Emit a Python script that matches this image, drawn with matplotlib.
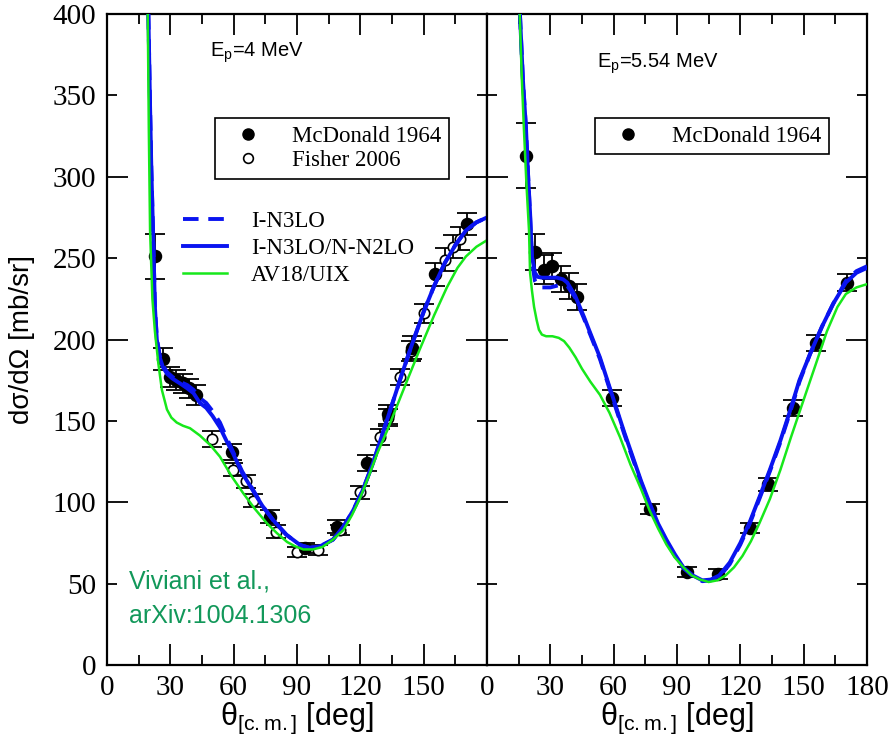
import numpy as np
import matplotlib
matplotlib.use("Agg")
import matplotlib.pyplot as plt
from matplotlib.ticker import MultipleLocator, FixedLocator, NullFormatter

plt.rcParams['mathtext.fontset'] = 'custom'
plt.rcParams['mathtext.rm'] = 'Liberation Sans'
plt.rcParams['mathtext.it'] = 'Liberation Sans:italic'

SERIF = 'Liberation Serif'
SANS = 'Liberation Sans'
GREEN_TXT = '#12985a'
BLUE = '#0a14f0'
LGREEN = '#17e81b'

# ---- left panel, Ep = 4 MeV ----
mcd4_x = [22.5, 26.5, 30, 32.5, 36, 39, 42, 59, 77, 94, 109, 123, 133, 144.5, 155.5, 170.5]
mcd4_y = [251, 188, 177, 175, 173, 170, 166, 131, 91, 72, 85, 124, 154, 195, 240, 271]
mcd4_e = [14, 7, 6, 6, 6, 6, 6, 5, 4, 3, 4, 5, 6, 7, 7, 7]

fis_x = [49.5, 59.5, 66, 69, 80, 90, 100, 110.5, 120, 129.5, 133, 139, 144, 150, 160, 164, 167]
fis_y = [139, 120, 113, 101, 82, 69.5, 70.5, 83, 106, 140, 152, 177, 193, 216, 249, 257, 262]
fis_e = [5, 4, 4, 4, 4, 3, 3, 3, 4, 5, 5, 5, 6, 6, 7, 7, 7]

n3lo4_x = [19.6, 20.3, 21.0, 21.8, 22.7, 23.6, 25, 26.5, 28.4, 31, 34.6, 38, 41, 44, 47, 50,
           53.5, 56.5, 59.7, 64, 69, 73.5, 78.7, 85, 91.5, 96, 101, 107, 112, 116.6, 121,
           126, 131, 135.5, 140, 145, 150, 155, 160, 165, 170, 175, 180]
n3lo4_y = [400, 350, 305, 267, 220, 201, 190, 184, 180, 177, 174, 172, 169, 164, 161, 156,
           149, 140, 131, 119, 108, 98, 89, 80, 73.7, 72, 73, 77, 85, 95, 107,
           124, 144, 162, 180, 199, 217, 233, 247, 258, 267, 272, 275]

n3n2_4_x = [19.6, 20.3, 21.0, 21.8, 22.7, 23.6, 25, 26.5, 28.4, 31, 34.6, 38, 41, 44, 47, 50,
            53.5, 56.5, 59.7, 64, 69, 73.5, 78.7, 85, 91.5, 96, 101, 107, 112, 116.6, 121,
            126, 131, 135.5, 140, 145, 150, 155, 160, 165, 170, 175, 180]
n3n2_4_y = [400, 350, 305, 267, 220, 200, 189, 183, 179, 176, 173, 170, 167, 161, 158, 153,
            146, 138, 130, 118, 107.5, 98, 89, 80, 73.7, 72, 73, 77, 85, 95, 107,
            124, 144, 162, 180, 199, 217, 233, 247, 258, 267, 272, 275]

av18_4_x = [19.3, 19.8, 20.4, 21.5, 22.7, 24.3, 26, 28.4, 30.5, 33, 36, 39.3, 44, 49, 53.5,
            59, 64.5, 70, 75.8, 80.5, 85.3, 89, 93, 97.5, 102, 107, 112, 116, 120, 124,
            128, 132.7, 137, 141, 148, 155, 161, 166, 170, 175, 180]
av18_4_y = [400, 330, 267, 225, 205, 185.5, 169, 157, 152, 149, 147, 145.5, 141, 135, 128,
            116, 105.6, 96, 87, 81, 75.6, 73, 71, 71, 72.5, 77, 83, 92, 103, 116,
            130, 144, 158, 171, 193.5, 215, 232, 244, 251, 257, 261]

# ---- right panel, Ep = 5.54 MeV ----
mcd5_x = [18.5, 22.7, 27, 30.8, 35, 39, 42.6, 59.2, 77.2, 94.7, 109.4, 124.5, 133, 145, 156, 170.5]
mcd5_y = [313, 254, 243, 245, 237, 233, 226, 164, 96, 57, 56, 84, 111, 158, 198, 235]
mcd5_e = [20, 11, 9, 8, 8, 8, 8, 5, 3, 3, 3, 3, 4, 5, 5, 5]

n3n2_5_x = [15.6, 17, 18.5, 19.5, 20.4, 21.3, 22.7, 24, 26, 30, 33, 36, 38, 41.7, 45.9, 48.3,
            53.5, 60, 65, 69, 73, 77, 81, 85, 89, 93, 97.5, 102, 106, 110, 115, 120, 124.5,
            129, 134, 139, 143.5, 148, 153, 158.7, 164, 170, 175, 180]
n3n2_5_y = [400, 360, 329, 300, 278, 251, 241, 238.5, 238, 238, 238, 237, 235, 227, 214, 206,
            189, 163, 143, 128, 113, 99.5, 87, 77, 68, 60, 55, 52, 52.5, 55, 63, 75, 88,
            103, 120, 138, 156, 175, 191, 208, 222, 235, 241, 244]

n3lo5_x = [15.6, 17, 18.5, 19.5, 20.4, 21.3, 22.7, 24, 26, 30, 33, 36, 38, 41.7, 45.9, 48.3,
           53.5, 60, 65, 69, 73, 77, 81, 85, 89, 93, 97.5, 102, 106, 110, 115, 120, 124.5,
           129, 134, 139, 143.5, 148, 153, 158.7, 164, 170, 175, 180]
n3lo5_y = [400, 360, 329, 300, 276, 248, 236, 233, 232, 232, 233, 234, 233, 226, 213, 205,
           188, 162, 142, 127, 112, 98.5, 86, 76, 67, 59.5, 54.5, 51.5, 52, 54, 62, 74, 87,
           102, 119, 137, 155, 174, 191, 208, 222, 236, 242, 245]

av18_5_x = [15.5, 16.5, 17.5, 18.7, 19.9, 20.4, 21.3, 22.3, 23.5, 24.6, 26, 28, 31, 34, 36.5,
            39, 42, 45, 49, 53.5, 58, 63, 68, 73, 77, 81, 85, 89, 93, 97, 101, 105, 109,
            113, 117, 121, 125, 129, 134, 139, 144, 150, 155, 161, 166, 170, 175, 180]
av18_5_y = [400, 360, 329, 295, 267, 241, 230, 220, 212, 206, 203, 202, 202, 201, 199,
            195, 189, 182, 174, 166, 155, 140, 123, 108, 95, 84, 74, 66, 60, 55, 52.5, 51, 52,
            55, 60, 67, 76, 87, 102, 120, 140, 163, 182, 205, 220, 228, 232, 234]

fig = plt.figure(figsize=(8.9, 7.43), dpi=100)
W, H = 890, 743
ax1 = fig.add_axes([107 / W, 1 - 665 / H, 380 / W, 651 / H])
ax2 = fig.add_axes([487 / W, 1 - 665 / H, 380 / W, 651 / H])

LEG_FS = 16.5
LEG_KW = dict(loc='upper left', bbox_to_anchor=(0.284, 0.840), borderaxespad=0,
              fancybox=False, edgecolor='black', framealpha=1,
              prop={'family': SERIF, 'size': LEG_FS}, handlelength=2.2, handletextpad=0.85,
              labelspacing=0.15, borderpad=0.33)


def style_axis(ax, xlabels):
    ax.set_xlim(0, 180)
    ax.set_ylim(0, 400)
    ax.xaxis.set_major_locator(MultipleLocator(30))
    ax.xaxis.set_minor_locator(MultipleLocator(15))
    ax.yaxis.set_major_locator(FixedLocator([0, 100, 200, 300, 400]))
    ax.yaxis.set_minor_locator(FixedLocator([50, 150, 250, 350]))
    ax.tick_params(which='both', direction='in', top=True, right=True, width=1.3, color='black')
    ax.tick_params(which='major', length=15)
    ax.tick_params(which='minor', length=7.5)
    ax.tick_params(axis='x', which='both', pad=7, labelsize=21)
    ax.tick_params(axis='y', which='both', pad=8, labelsize=21)
    for s in ax.spines.values():
        s.set_linewidth(1.6)
    ax.set_xticks(xlabels)
    ax.set_xticklabels([str(v) for v in xlabels], family=SERIF)
    ax.set_xlabel(r'$\mathrm{\theta_{[c.m.]}}$ [deg]', family=SANS, fontsize=22, labelpad=0)


def errpts(ax, x, y, e, filled):
    ax.errorbar(x, y, yerr=e, fmt='none', ecolor='black', elinewidth=1.3, capsize=7,
                capthick=1.3, zorder=2)
    ax.plot(x, y, 'o', ms=8.5 if filled else 7.5, mfc='black' if filled else 'white',
            mec='black', mew=1.2, linestyle='none', zorder=3)


# left panel
errpts(ax1, fis_x, fis_y, fis_e, False)
errpts(ax1, mcd4_x, mcd4_y, mcd4_e, True)
ax1.plot(n3n2_4_x, n3n2_4_y, color=BLUE, lw=2.8, zorder=4)
ax1.plot(n3lo4_x, n3lo4_y, color=BLUE, lw=2.8, ls=(0, (4, 2.5)), zorder=4)
ax1.plot(av18_4_x, av18_4_y, color=LGREEN, lw=1.8, zorder=5)

style_axis(ax1, [0, 30, 60, 90, 120, 150])
ax1.set_yticks([0, 100, 200, 300, 400])
ax1.set_yticks([50, 150, 250, 350], minor=True)
ax1.set_yticklabels(['0', '100', '200', '300', '400'], family=SERIF)
ax1.set_yticklabels(['50', '150', '250', '350'], minor=True, family=SERIF)
ax1.set_ylabel('dσ/dΩ [mb/sr]', family=SANS, fontsize=20, labelpad=12)

h_f, = ax1.plot([], [], 'o', ms=8, mfc='black', mec='black')
h_o, = ax1.plot([], [], 'o', ms=7, mfc='white', mec='black', mew=1.2)
leg1 = ax1.legend([h_f, h_o], ['McDonald 1964', 'Fisher 2006'], **LEG_KW)
leg1.get_frame().set_linewidth(1.2)
ax1.add_artist(leg1)

l_d, = ax1.plot([], [], color=BLUE, lw=2.8, ls=(0, (4, 2.5)))
l_s, = ax1.plot([], [], color=BLUE, lw=2.8)
l_g, = ax1.plot([], [], color=LGREEN, lw=1.8)
ax1.legend([l_d, l_s, l_g], ['I-N3LO', 'I-N3LO/N-N2LO', 'AV18/UIX'], loc='upper left',
           bbox_to_anchor=(0.2, 0.697), borderaxespad=0, borderpad=0, frameon=False,
           prop={'family': SERIF, 'size': LEG_FS}, handlelength=1.92, handletextpad=1.05,
           labelspacing=0.25)

ax1.text(0.271, 0.934, r'E$_\mathrm{p}$=4 MeV', transform=ax1.transAxes, family=SANS,
         fontsize=14.5, ha='left', va='baseline')
ax1.text(0.058, 0.118, 'Viviani et al.,', transform=ax1.transAxes,
         family=SANS, fontsize=18, color=GREEN_TXT, ha='left', va='baseline')
ax1.text(0.058, 0.0645, 'arXiv:1004.1306', transform=ax1.transAxes,
         family=SANS, fontsize=18, color=GREEN_TXT, ha='left', va='baseline')

# right panel
errpts(ax2, mcd5_x, mcd5_y, mcd5_e, True)
ax2.plot(n3n2_5_x, n3n2_5_y, color=BLUE, lw=2.8, zorder=4)
ax2.plot(n3lo5_x, n3lo5_y, color=BLUE, lw=2.8, ls=(0, (4, 2.5)), zorder=4)
ax2.plot(av18_5_x, av18_5_y, color=LGREEN, lw=1.8, zorder=5)

style_axis(ax2, [0, 30, 60, 90, 120, 150, 180])
ax2.yaxis.set_major_formatter(NullFormatter())
ax2.yaxis.set_minor_formatter(NullFormatter())

h_f2, = ax2.plot([], [], 'o', ms=8, mfc='black', mec='black')
leg2 = ax2.legend([h_f2], ['McDonald 1964'], **LEG_KW)
leg2.get_frame().set_linewidth(1.2)

ax2.text(0.29, 0.918, r'E$_\mathrm{p}$=5.54 MeV', transform=ax2.transAxes, family=SANS,
         fontsize=14.5, ha='left', va='baseline')

fig.savefig('out.png', dpi=100)
